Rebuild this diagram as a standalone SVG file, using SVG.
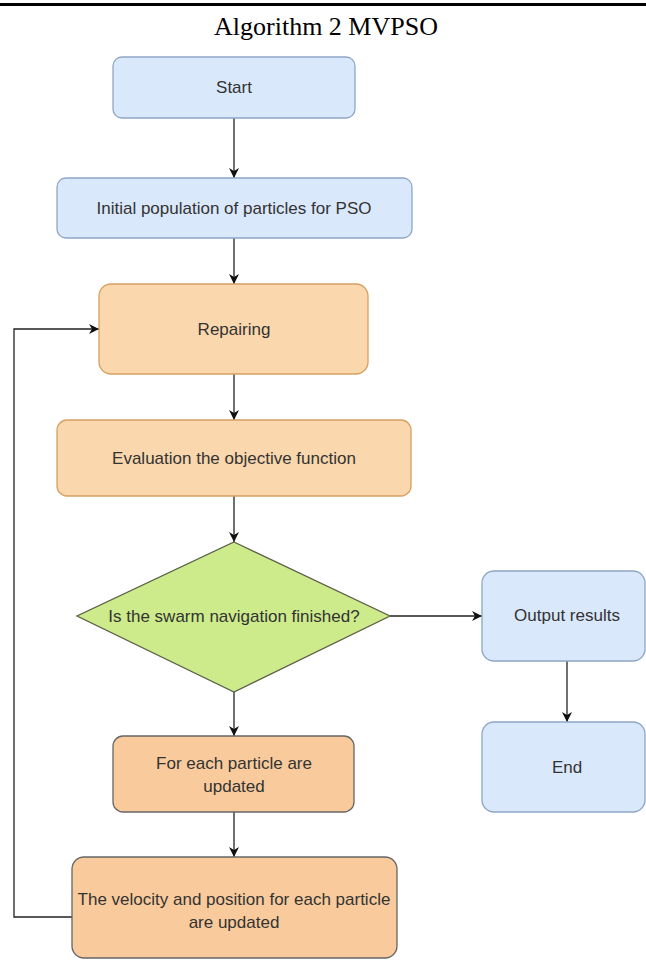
<svg xmlns="http://www.w3.org/2000/svg" width="646" height="961" viewBox="0 0 646 961">
<style>
.t{font-family:"Liberation Sans",Arial,sans-serif;font-size:17px;fill:#333;text-anchor:middle;dominant-baseline:central}
.blue{fill:#dae8fc;stroke:#8ea6c6;stroke-width:1.3}
.or1{fill:#fad7ac;stroke:#d6a062;stroke-width:1.3}
.or2{fill:#f9cb9c;stroke:#666;stroke-width:1.3}
.dia{fill:#cdeb8b;stroke:#5b6148;stroke-width:1.3}
.c{fill:none;stroke:#222;stroke-width:1.3}
</style>
<defs>
<marker id="ah" viewBox="0 0 10 10" refX="10" refY="5" markerWidth="10" markerHeight="10" markerUnits="userSpaceOnUse" orient="auto">
<path d="M0,0 L10,5 L0,10 L3,5 Z" fill="#111"/>
</marker>
</defs>
<rect x="0" y="3" width="646" height="3" fill="#000"/>
<text x="326" y="35" font-family="'Liberation Serif','Times New Roman',serif" font-size="26" text-anchor="middle" fill="#000">Algorithm 2 MVPSO</text>
<g id="connectors">
<line class="c" x1="234" y1="118" x2="234" y2="178" marker-end="url(#ah)"/>
<line class="c" x1="234" y1="238" x2="234" y2="284" marker-end="url(#ah)"/>
<line class="c" x1="234" y1="374" x2="234" y2="420" marker-end="url(#ah)"/>
<line class="c" x1="234" y1="496" x2="234" y2="542" marker-end="url(#ah)"/>
<line class="c" x1="390" y1="616" x2="482" y2="616" marker-end="url(#ah)"/>
<line class="c" x1="567" y1="661" x2="567" y2="722" marker-end="url(#ah)"/>
<line class="c" x1="234" y1="692" x2="234" y2="736" marker-end="url(#ah)"/>
<line class="c" x1="234" y1="812" x2="234" y2="857" marker-end="url(#ah)"/>
<polyline class="c" points="72,917 14,917 14,329 99,329" marker-end="url(#ah)"/>
</g>
<g id="start"><rect class="blue" x="113" y="57" width="242" height="61" rx="9"/><text class="t" x="234" y="87">Start</text></g>
<g id="init"><rect class="blue" x="57" y="178" width="355" height="60" rx="9"/><text class="t" x="234" y="208">Initial population of particles for PSO</text></g>
<g id="repair"><rect class="or1" x="99" y="284" width="269" height="90" rx="12"/><text class="t" x="234" y="329">Repairing</text></g>
<g id="eval"><rect class="or1" x="57" y="420" width="354" height="76" rx="10"/><text class="t" x="234" y="458">Evaluation the objective function</text></g>
<g id="decision"><polygon class="dia" points="234,542 390,616 234,692 77,616"/><text class="t" x="234" y="616">Is the swarm navigation finished?</text></g>
<g id="output"><rect class="blue" x="482" y="571" width="163" height="90" rx="12"/><text class="t" x="567" y="615">Output results</text></g>
<g id="end"><rect class="blue" x="482" y="722" width="163" height="90" rx="12"/><text class="t" x="567" y="767">End</text></g>
<g id="foreach"><rect class="or2" x="113" y="736" width="241" height="76" rx="10"/><text class="t" x="234" y="763">For each particle are</text><text class="t" x="234" y="786">updated</text></g>
<g id="velocity"><rect class="or2" x="72" y="857" width="325" height="101" rx="12"/><text class="t" x="234" y="899">The velocity and position for each particle</text><text class="t" x="234" y="922">are updated</text></g>
</svg>
